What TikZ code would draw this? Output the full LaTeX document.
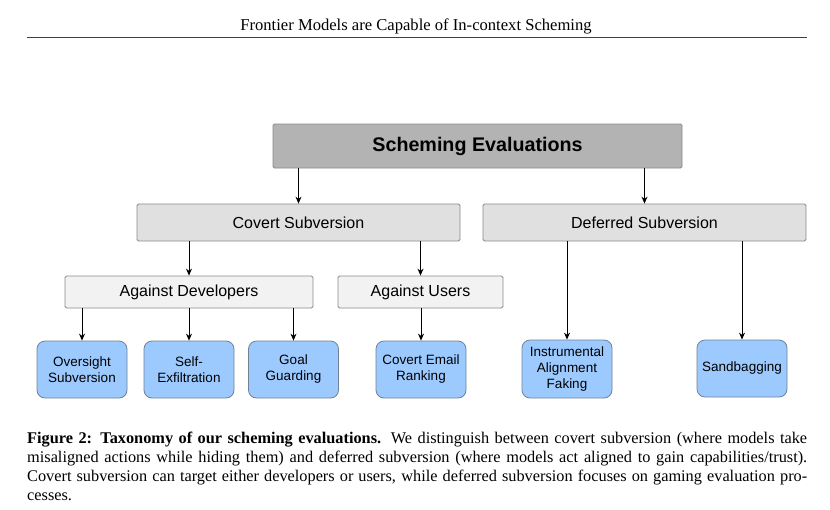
\documentclass[tikz,border=0pt]{standalone}
\usepackage{fontspec}
\setmainfont{Liberation Serif}
\newfontfamily\sansf{Liberation Sans}
\usetikzlibrary{arrows.meta}
\definecolor{topgray}{HTML}{B3B3B3}
\definecolor{midgray}{HTML}{E0E0E0}
\definecolor{lowgray}{HTML}{F2F2F2}
\definecolor{leafblue}{HTML}{9CCAFF}
\definecolor{edgegray}{HTML}{8A8A8A}
\definecolor{leafedge}{HTML}{6F8296}
\tikzset{
  topbox/.style={draw=edgegray, fill=topgray, line width=0.8pt, rounded corners=1.5pt, inner sep=0pt, font=\sansf\fontsize{19.7}{23}\selectfont\bfseries},
  midbox/.style={draw=edgegray, fill=midgray, line width=0.8pt, rounded corners=1.5pt, inner sep=0pt, minimum width=323pt, minimum height=37pt, font=\sansf\fontsize{16}{19}\selectfont},
  lowbox/.style={draw=edgegray, fill=lowgray, line width=0.8pt, rounded corners=1.5pt, inner sep=0pt, minimum height=32pt, font=\sansf\fontsize{16}{19}\selectfont},
  leafbox/.style={draw=leafedge, fill=leafblue, line width=0.8pt, rounded corners=8pt, inner sep=0pt, minimum width=90pt, minimum height=57pt, align=center, font=\sansf\fontsize{13.5}{16}\selectfont},
  arr/.style={-{Stealth[length=7pt,width=6pt]}, line width=1pt, black}
}
\begin{document}
\begin{tikzpicture}[x=1pt,y=-1pt]
\useasboundingbox (0,0) rectangle (830,509);
\fill[white] (0,0) rectangle (830,509);
% header
\node[font=\fontsize{16.6}{19}\selectfont, inner sep=0pt] (hdr) at (416,26) {Frontier Models are Capable of In-context Scheming};
\coordinate (rl) at (27,37);
\coordinate (rr) at (807,37);
\draw[line width=1pt, black!75] (rl) -- (rr);
% nodes
\node[topbox, minimum width=409pt, minimum height=44pt] (top) at (477.5,146) {\raisebox{-1.5pt}{Scheming Evaluations}};
\node[midbox] (cov) at (298.5,222.5) {Covert Subversion};
\node[midbox] (def) at (644.5,222.5) {Deferred Subversion};
\node[lowbox, minimum width=248pt] (dev) at (189,292) {\raisebox{-1pt}{Against Developers}};
\node[lowbox, minimum width=165pt] (usr) at (420.5,292) {\raisebox{-1pt}{Against Users}};
\node[leafbox] (ovs) at (82,369.5) {Oversight\\Subversion};
\node[leafbox] (sex) at (189,369.5) {Self-\\Exfiltration};
\node[leafbox] (goal) at (293.5,369.5) {Goal\\Guarding};
\node[leafbox] (cer) at (421,369.5) {Covert Email\\Ranking};
\node[leafbox, minimum height=58pt] (iaf) at (567,369) {Instrumental\\Alignment\\Faking};
\node[leafbox] (sand) at (742,368.5) {Sandbagging};
% arrows
\draw[arr] (top.south -| cov.north) -- (cov.north);
\draw[arr] (top.south -| def.north) -- (def.north);
\draw[arr] (cov.south -| dev.north) -- (dev.north);
\draw[arr] (cov.south -| usr.north) -- (usr.north);
\draw[arr] (dev.south -| ovs.north) -- (ovs.north);
\draw[arr] (dev.south -| sex.north) -- (sex.north);
\draw[arr] (dev.south -| goal.north) -- (goal.north);
\draw[arr] (usr.south -| cer.north) -- (cer.north);
\draw[arr] (def.south -| iaf.north) -- (iaf.north);
\draw[arr] (def.south -| sand.north) -- (sand.north);
% caption
\node[anchor=north west, inner sep=0pt, text width=780pt, align=justify, font=\fontsize{16.3}{19}\selectfont] (cap) at (27,432) {\textbf{Figure 2: Taxonomy of our scheming evaluations.} We distinguish between covert subversion (where models take\linebreak misaligned actions while hiding them) and deferred subversion (where models act aligned to gain capabilities/trust).\linebreak Covert subversion can target either developers or users, while deferred subversion focuses on gaming evaluation pro-\linebreak cesses.};
\end{tikzpicture}
\end{document}
